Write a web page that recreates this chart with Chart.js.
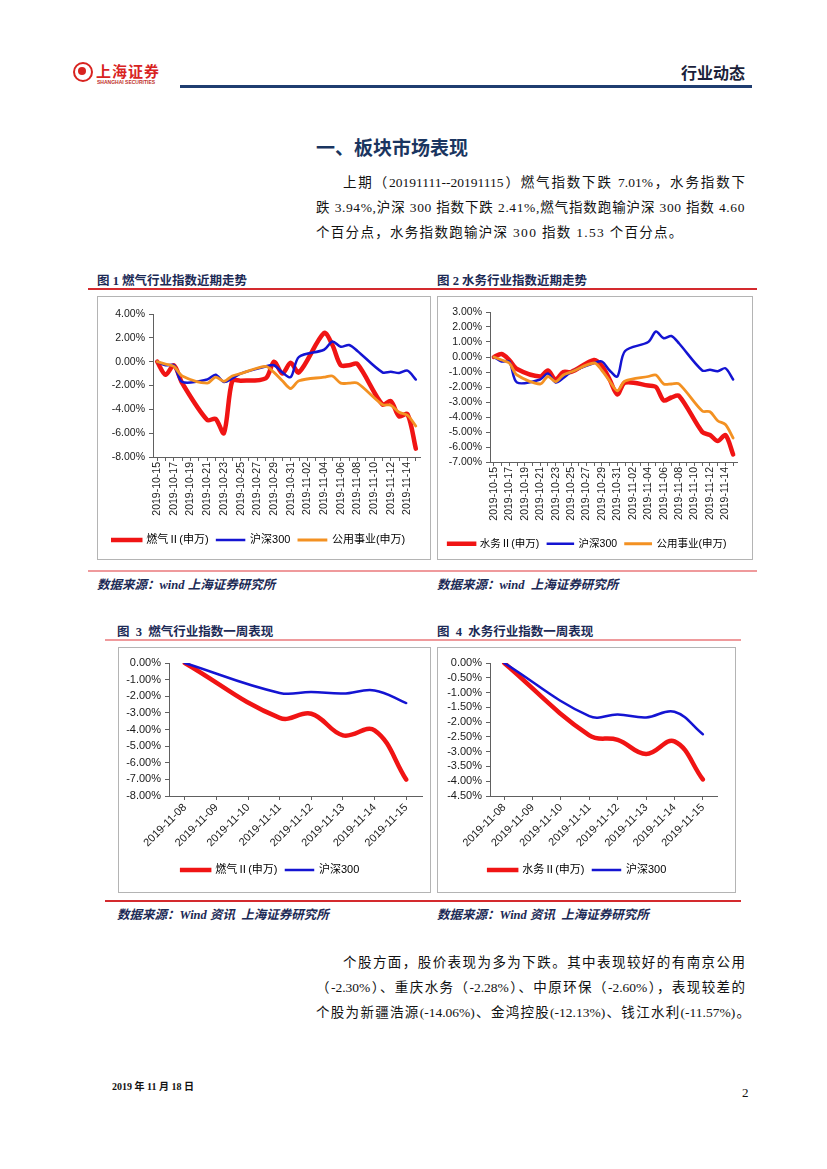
<!DOCTYPE html>
<html>
<head>
<meta charset="utf-8">
<script src="https://cdn.jsdelivr.net/npm/chart.js@4.4.1/dist/chart.umd.min.js"></script>
<style>
  body { margin: 0; background: #fff; }
  #page { position: relative; width: 827px; height: 1169px; overflow: hidden; background: #fff;
          font-family: "Liberation Serif", "Noto Sans CJK SC", serif; color: #111; }
  .abs { position: absolute; white-space: nowrap; }
  .rule { position: absolute; }
  .figtitle { position: absolute; font-weight: bold; font-size: 12.5px; color: #1c2a55; white-space: nowrap; }
  .source { position: absolute; font-weight: bold; font-style: italic; font-size: 12.5px; color: #1c2a55; white-space: nowrap; }
  .line { position: absolute; font-size: 13.5px; line-height: 18px; height: 18px; overflow: visible; }
  .just { text-align: justify; text-align-last: justify; }
  .box { position: absolute; border: 1px solid #b4b4b4; box-sizing: border-box; }
  .box > div { position: absolute; left: 0; top: 0; right: 0; bottom: 0; }
</style>
</head>
<body>
<div id="page">
  <!-- header -->
  <div class="abs" style="left:73px;top:62px;width:16px;height:16px;border:2px solid #d8231f;border-radius:50%;"></div>
  <div class="abs" style="left:78px;top:67px;width:8px;height:8px;background:#d8231f;border-radius:50%;"></div>
  <div class="abs" style="left:96px;top:60px;font:bold 15px 'Noto Sans CJK SC';color:#d8231f;letter-spacing:1px;">上海证券</div>
  <div class="abs" style="left:97px;top:79px;font:bold 5px 'Liberation Sans';color:#c0302a;">SHANGHAI SECURITIES</div>
  <div class="abs" style="left:681px;top:60px;font:bold 16px 'Noto Sans CJK SC';color:#1b1f3a;">行业动态</div>
  <div class="rule" style="left:180px;top:85px;width:572px;height:3px;background:#1f3d70;"></div>

  <div class="abs" style="left:316px;top:133px;font:bold 19px 'Noto Sans CJK SC';color:#1a3560;">一、板块市场表现</div>

  <div class="line just" style="left:343px;top:174px;width:402px;">上期（20191111--20191115）燃气指数下跌 7.01%，水务指数下</div>
  <div class="line just" style="left:316px;top:199px;width:429px;letter-spacing:0.6px;">跌 3.94%,沪深 300 指数下跌 2.41%,燃气指数跑输沪深 300 指数 4.60</div>
  <div class="line" style="left:316px;top:224px;white-space:nowrap;letter-spacing:1.3px;">个百分点，水务指数跑输沪深 300 指数 1.53 个百分点。</div>

  <!-- figure 1 / 2 -->
  <div class="figtitle" style="left:97px;top:270px;">图 1 燃气行业指数近期走势</div>
  <div class="figtitle" style="left:437px;top:270px;">图 2 水务行业指数近期走势</div>
  <div class="rule" style="left:88px;top:288px;width:669px;height:1.5px;background:#d42a2e;"></div>

  <div class="box" style="left:97px;top:296px;width:334px;height:264px;"><div><canvas id="c1"></canvas></div></div>
  <div class="box" style="left:437px;top:296px;width:316px;height:264px;"><div><canvas id="c2"></canvas></div></div>

  <div class="rule" style="left:88px;top:570px;width:669px;height:2px;background:#ef9a9c;"></div>
  <div class="source" style="left:97px;top:574px;">数据来源：wind 上海证券研究所</div>
  <div class="source" style="left:437px;top:574px;">数据来源：wind &nbsp;上海证券研究所</div>

  <!-- figure 3 / 4 -->
  <div class="figtitle" style="left:117px;top:621px;">图 &nbsp;3 &nbsp;燃气行业指数一周表现</div>
  <div class="figtitle" style="left:437px;top:621px;">图 &nbsp;4 &nbsp;水务行业指数一周表现</div>
  <div class="rule" style="left:105px;top:639px;width:636px;height:2px;background:#ef9a9c;"></div>

  <div class="box" style="left:118px;top:647px;width:313px;height:246px;"><div><canvas id="c3"></canvas></div></div>
  <div class="box" style="left:437px;top:647px;width:299px;height:246px;"><div><canvas id="c4"></canvas></div></div>

  <div class="rule" style="left:105px;top:900px;width:636px;height:1.5px;background:#d42a2e;"></div>
  <div class="source" style="left:117px;top:904px;">数据来源：Wind 资讯 &nbsp;上海证券研究所</div>
  <div class="source" style="left:437px;top:904px;">数据来源：Wind 资讯 &nbsp;上海证券研究所</div>

  <div class="line just" style="left:343px;top:954px;width:402px;">个股方面，股价表现为多为下跌。其中表现较好的有南京公用</div>
  <div class="line just" style="left:316px;top:979px;width:429px;">（-2.30%）、重庆水务（-2.28%）、中原环保（-2.60%），表现较差的</div>
  <div class="line just" style="left:316px;top:1004px;width:434px;">个股为新疆浩源(-14.06%)、金鸿控股(-12.13%)、钱江水利(-11.57%)。</div>

  <div class="abs" style="left:112px;top:1078px;font:bold 10px 'Liberation Serif','Noto Sans CJK SC';color:#111;">2019 年 11 月 18 日</div>
  <div class="abs" style="left:742px;top:1085px;font:13px 'Liberation Serif';color:#111;">2</div>
</div>

<script>
window.addEventListener("DOMContentLoaded", () => {

  // trading days shown in figures 1 and 2
  const tradeDays = ["2019-10-15", "2019-10-16", "2019-10-17", "2019-10-18", "2019-10-21", "2019-10-22",
    "2019-10-23", "2019-10-24", "2019-10-25", "2019-10-28", "2019-10-29", "2019-10-30", "2019-10-31",
    "2019-11-01", "2019-11-04", "2019-11-05", "2019-11-06", "2019-11-07", "2019-11-08", "2019-11-11",
    "2019-11-12", "2019-11-13", "2019-11-14", "2019-11-15"];

  // cumulative change since 2019-10-15, %
  const gasDaily = [0, -1.1, -0.3, -1.8, -4.9, -4.8, -6.0, -1.6, -1.6, -1.4, 0.0, -1.0, -0.1,
    -0.9, 2.4, 1.4, -0.3, -0.3, -0.2, -3.6, -3.3, -4.6, -4.4, -7.3];
  const waterDaily = [0, 0.2, -0.2, -0.8, -1.3, -0.9, -1.5, -1.0, -1.0, -0.2, -0.6, -1.5, -2.5,
    -1.7, -1.9, -2.0, -2.9, -2.7, -2.6, -5.0, -5.2, -5.6, -5.2, -6.5];
  const hs300Daily = [0, -0.3, -0.3, -1.7, -1.5, -1.1, -1.7, -1.4, -1.0, -0.4, -0.3, -0.9, -1.3,
    0.4, 1.0, 1.7, 1.25, 1.4, 0.9, -0.9, -0.85, -0.95, -0.75, -1.5];
  const utilDaily = [0, -0.2, -0.4, -1.2, -1.8, -1.3, -1.65, -1.2, -1.0, -0.4, -0.9, -1.6, -2.25,
    -1.6, -1.3, -1.2, -1.8, -1.8, -1.8, -3.6, -3.65, -4.25, -4.5, -5.4];

  // one-week performance (figures 3 and 4), %
  const weekDays = ["2019-11-08", "2019-11-11", "2019-11-12", "2019-11-13", "2019-11-14", "2019-11-15"];
  const gasWeek = [0, -3.3, -3.05, -4.35, -4.05, -7.01];
  const waterWeek = [0, -2.45, -2.6, -3.08, -2.65, -3.94];
  const hs300Week = [0, -1.8, -1.74, -1.84, -1.65, -2.41];

  const RED = "#f01414", BLUE = "#1414d2", ORANGE = "#f39122", AXIS = "#606060";

  const calendarDays = (from, to) => {
    const out = [];
    for (let t = Date.parse(from + "T00:00:00Z"); t <= Date.parse(to + "T00:00:00Z"); t += 86400000) {
      out.push(new Date(t).toISOString().slice(0, 10));
    }
    return out;
  };
  const dailyAxis = calendarDays("2019-10-15", "2019-11-15");
  const weekAxis = calendarDays("2019-11-08", "2019-11-15");

  const pts = (days, vals) => days.map((d, i) => ({ x: d, y: vals[i] }));

  Chart.defaults.font.family = '"Liberation Sans", "Noto Sans CJK SC", sans-serif';
  Chart.defaults.color = "#1a1a1a";

  const line = (label, days, vals, color, width, order, tension) => ({
    label, data: pts(days, vals), borderColor: color, backgroundColor: color,
    borderWidth: width, pointRadius: 0, tension, order,
    borderCapStyle: "round", borderJoinStyle: "round", fill: false
  });

  function draw(id, o) {
    new Chart(document.getElementById(id), {
      type: "line",
      data: { labels: o.axis, datasets: o.datasets },
      options: {
        responsive: true, maintainAspectRatio: false, animation: false,
        layout: { padding: { top: o.pad[0], right: o.pad[1], bottom: o.pad[2], left: 0 } },
        plugins: {
          tooltip: { enabled: false },
          legend: {
            position: "bottom",
            labels: {
              boxWidth: o.boxW, boxHeight: 1, padding: 8,
              font: { size: o.legendSize }, color: "#1a1a1a",
              generateLabels: ch => ch.data.datasets.map((ds, i) => ({
                text: ds.label, fillStyle: ds.borderColor, strokeStyle: ds.borderColor,
                lineWidth: ds.borderWidth - 1, lineCap: "round", hidden: false, datasetIndex: i
              }))
            }
          }
        },
        scales: {
          x: {
            type: "category", offset: true,
            ticks: {
              autoSkip: false, minRotation: o.rot, maxRotation: o.rot, padding: 1,
              font: { size: o.xSize }, color: "#1a1a1a",
              callback: (v, i) => (i % o.every === 0 ? o.axis[i] : "")
            },
            grid: { drawOnChartArea: false, tickLength: 4, color: AXIS },
            border: { color: AXIS, width: 1 },
            afterFit: s => { s.height = o.xh; }
          },
          y: {
            min: o.min, max: o.max,
            ticks: {
              stepSize: o.step, autoSkip: false, padding: 4, font: { size: o.ySize }, color: "#1a1a1a",
              callback: v => v.toFixed(2) + "%"
            },
            grid: { drawOnChartArea: false, tickLength: 4, color: AXIS },
            border: { color: AXIS, width: 1 },
            afterFit: s => { s.width = o.yw; }
          }
        }
      }
    });
  }

  draw("c1", {
    axis: dailyAxis, every: 2, rot: 90, xSize: 10.5, ySize: 10.5, legendSize: 11, boxW: 28,
    min: -8, max: 4, step: 2, yw: 55, xh: 69.5, pad: [17, 10, 3.5],
    datasets: [
      line("燃气Ⅱ(申万)", tradeDays, gasDaily, RED, 4.5, 3, 0.3),
      line("沪深300", tradeDays, hs300Daily, BLUE, 2.5, 2, 0.3),
      line("公用事业(申万)", tradeDays, utilDaily, ORANGE, 2.8, 1, 0.3)
    ]
  });

  draw("c2", {
    axis: dailyAxis, every: 2, rot: 90, xSize: 10.5, ySize: 10.5, legendSize: 10.5, boxW: 26,
    min: -7, max: 3, step: 1, yw: 52, xh: 68.5, pad: [15, 15, 0],
    datasets: [
      line("水务Ⅱ(申万)", tradeDays, waterDaily, RED, 4.5, 3, 0.3),
      line("沪深300", tradeDays, hs300Daily, BLUE, 2.5, 2, 0.3),
      line("公用事业(申万)", tradeDays, utilDaily, ORANGE, 2.8, 1, 0.3)
    ]
  });

  draw("c3", {
    axis: weekAxis, every: 1, rot: 45, xSize: 11, ySize: 11, legendSize: 11, boxW: 28,
    min: -8, max: 0, step: 1, yw: 50, xh: 60.5, pad: [15, 8, 6.5],
    datasets: [
      line("燃气Ⅱ(申万)", weekDays, gasWeek, RED, 4.5, 2, 0.4),
      line("沪深300", weekDays, hs300Week, BLUE, 2.5, 1, 0.4)
    ]
  });

  draw("c4", {
    axis: weekAxis, every: 1, rot: 45, xSize: 11, ySize: 11, legendSize: 11, boxW: 28,
    min: -4.5, max: 0, step: 0.5, yw: 52, xh: 60.5, pad: [15, 18, 6.5],
    datasets: [
      line("水务Ⅱ(申万)", weekDays, waterWeek, RED, 4.5, 2, 0.4),
      line("沪深300", weekDays, hs300Week, BLUE, 2.5, 1, 0.4)
    ]
  });

});
</script>
</body>
</html>
